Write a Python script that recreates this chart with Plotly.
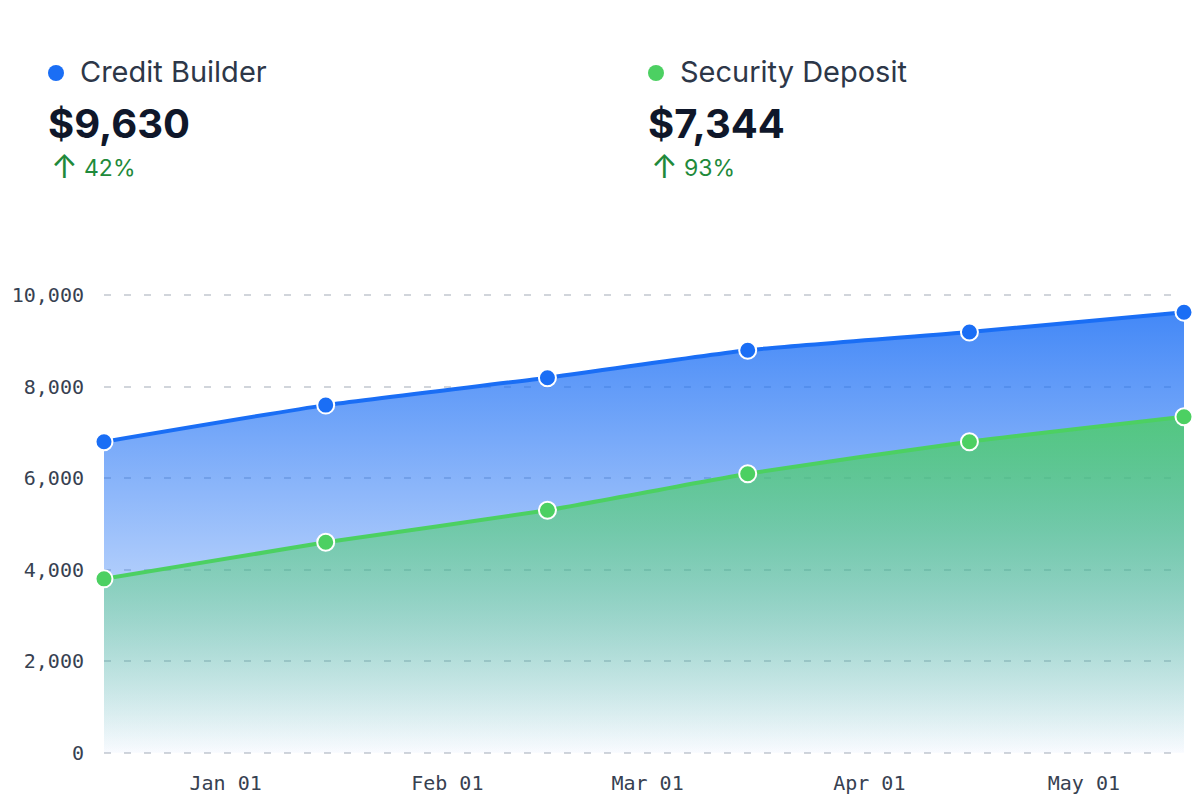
import plotly.graph_objects as go

# monthly balances (mid-month snapshots)
dates = ["2022-12-15", "2023-01-15", "2023-02-15", "2023-03-15", "2023-04-15", "2023-05-15"]
credit_builder = [6800, 7600, 8200, 8800, 9200, 9630]
security_deposit = [3800, 4600, 5300, 6100, 6800, 7344]

series_names = ["Credit Builder", "Security Deposit"]
totals = ["$9,630", "$7,344"]
changes = ["42%", "93%"]

blue = "#1a6ef5"
green = "#4cd062"
tick_font = dict(family="DejaVu Sans Mono", size=20, color="#374151")

fig = go.Figure()

fig.add_trace(go.Scatter(
    x=dates, y=credit_builder, name=series_names[0],
    mode="lines+markers",
    line=dict(color=blue, width=4, shape="spline", smoothing=0.5),
    marker=dict(size=17, color=blue, line=dict(color="white", width=2)),
    fill="tozeroy",
    fillgradient=dict(type="vertical", start=0, stop=10000,
                      colorscale=[[0, "rgba(26,110,245,0.03)"], [1, "rgba(26,110,245,0.85)"]]),
    cliponaxis=False,
))

fig.add_trace(go.Scatter(
    x=dates, y=security_deposit, name=series_names[1],
    mode="lines+markers",
    line=dict(color=green, width=4, shape="spline", smoothing=0.5),
    marker=dict(size=17, color=green, line=dict(color="white", width=2)),
    fill="tozeroy",
    fillgradient=dict(type="vertical", start=0, stop=7344,
                      colorscale=[[0, "rgba(76,208,98,0.0)"], [1, "rgba(76,208,98,0.8)"]]),
    cliponaxis=False,
))

# page has an 8px body margin; plot area on screen: left 104, right 1184, top 294, bottom 754
OFF = 8
L, R, T, B = 104 - OFF, 1184 - OFF, 294 - OFF, 754 - OFF


def px_x(x):
    return (x - OFF - L) / (R - L)


def px_y(y):
    return (B - (y - OFF)) / (B - T)


header_cols = [(48, blue), (648, green)]
for (x0, c), name, total, chg in zip(header_cols, series_names, totals, changes):
    fig.add_shape(
        type="circle", xref="paper", yref="paper",
        x0=px_x(x0), x1=px_x(x0 + 16), y0=px_y(81), y1=px_y(65),
        fillcolor=c, line=dict(width=0),
    )
    fig.add_annotation(
        x=px_x(x0 + 30), y=px_y(72), xref="paper", yref="paper",
        xanchor="left", yanchor="middle", showarrow=False,
        text=name,
        font=dict(family="Inter", size=29, color="#2d3748"),
    )
    fig.add_annotation(
        x=px_x(x0 - 2), y=px_y(124), xref="paper", yref="paper",
        xanchor="left", yanchor="middle", showarrow=False,
        text=f"<b>{total}</b>",
        font=dict(family="Inter", size=40, color="#0f172a"),
    )
    fig.add_annotation(
        x=px_x(x0 + 1), y=px_y(167), xref="paper", yref="paper",
        xanchor="left", yanchor="middle", showarrow=False,
        text="↑",
        font=dict(family="Inter", size=32, color="#1f8a3b"),
    )
    fig.add_annotation(
        x=px_x(x0 + 34), y=px_y(168), xref="paper", yref="paper",
        xanchor="left", yanchor="middle", showarrow=False,
        text=chg,
        font=dict(family="Inter", size=23, color="#1f8a3b"),
    )

fig.update_layout(
    width=1200, height=800,
    margin=dict(l=L, r=1200 - R, t=T, b=800 - B),
    plot_bgcolor="white", paper_bgcolor="white",
    showlegend=False,
)
fig.update_xaxes(
    range=[dates[0], dates[-1]], automargin=False,
    showgrid=False, zeroline=False, showline=False,
    tickformat="%b %d", dtick="M1", tick0="2023-01-01",
    tickfont=tick_font, ticklabelstandoff=15,
)
fig.update_yaxes(
    range=[-30, 10030], dtick=2000, tickformat=",d", automargin=False,
    showgrid=True, gridcolor="#d1d5db", gridwidth=1.8, griddash="7px,13px",
    zeroline=False, showline=False,
    tickfont=tick_font, ticklabelstandoff=19,
)

fig.write_html("out.html")
